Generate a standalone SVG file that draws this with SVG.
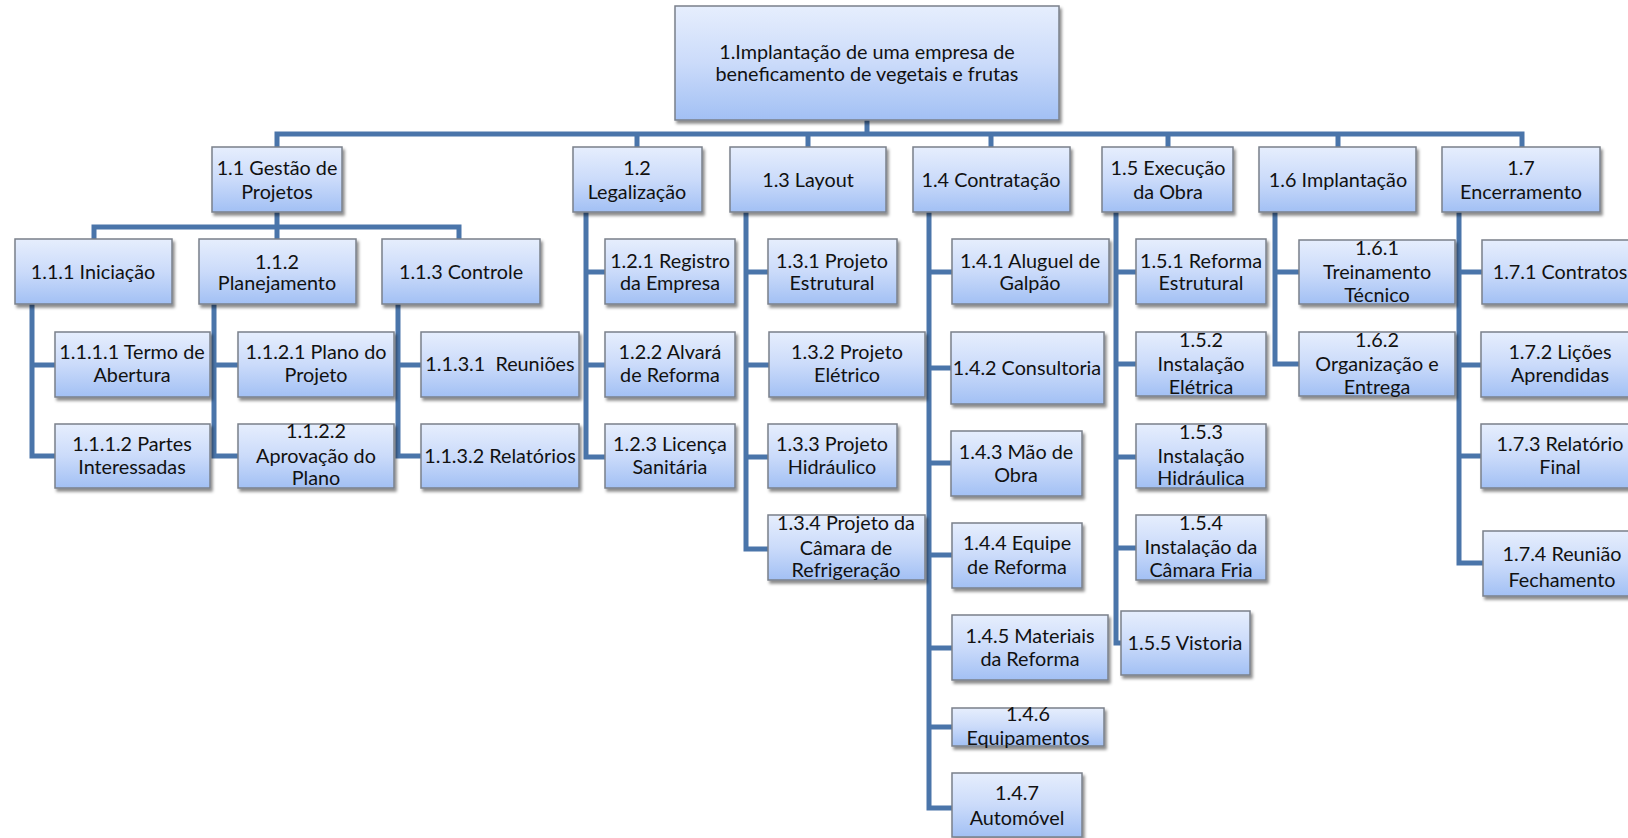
<svg xmlns="http://www.w3.org/2000/svg" width="1628" height="838" viewBox="0 0 1628 838">
<defs>
<linearGradient id="g" x1="0" y1="0" x2="0" y2="1">
<stop offset="0" stop-color="#e6eefd"/>
<stop offset="0.5" stop-color="#cbdbfa"/>
<stop offset="1" stop-color="#a2c0f4"/>
</linearGradient>
<filter id="sh" x="-10%" y="-10%" width="130%" height="140%">
<feDropShadow dx="2" dy="3" stdDeviation="1.6" flood-color="#000" flood-opacity="0.45"/>
</filter>
</defs>
<style>
.b{fill:url(#g);stroke:#7a808a;stroke-width:1.5;filter:url(#sh)}
.t{font-family:Lato,"Liberation Sans",sans-serif;font-size:19.8px;fill:#111;text-anchor:middle}
.c{fill:none;stroke:#4a75aa;stroke-width:5;stroke-linejoin:miter}
</style>
<rect width="1628" height="838" fill="#fff"/>
<g id="connectors" class="c">
<path d="M867,120V134M277,147V134H1522V147M637,134V147M808,134V147M991,134V147M1168,134V147M1338,134V147"/>
<path d="M277,212V239M94,239V227H459V239"/>
<path d="M32,304V456H55M32,365H55"/>
<path d="M214,304V456H238M214,365H238"/>
<path d="M398,304V456H421M398,365H421"/>
<path d="M586,212V457H605M586,272H605M586,365H605"/>
<path d="M746,212V549H768M746,272H768M746,365H769M746,457H768"/>
<path d="M929,212V808H952M929,272H952M929,368H951M929,463H951M929,555H952M929,648H952M929,727H952"/>
<path d="M1116,212V643H1121M1116,272H1136M1116,364H1136M1116,457H1136M1116,548H1136"/>
<path d="M1275,212V364H1299M1275,272H1299"/>
<path d="M1459,212V563H1483M1459,272H1482M1459,365H1481M1459,456H1481"/>
</g>
<g id="n1"><rect class="b" x="675" y="6" width="384" height="114"/><text class="t" x="867"><tspan x="867" y="59">1.Implantação de uma empresa de</tspan><tspan x="867" y="81">beneficamento de vegetais e frutas</tspan></text></g>
<g id="n1_1"><rect class="b" x="212" y="147" width="130" height="65"/><text class="t"><tspan x="277" y="175">1.1 Gestão de</tspan><tspan x="277" y="199">Projetos</tspan></text></g>
<g id="n1_2"><rect class="b" x="573" y="147" width="129" height="65"/><text class="t"><tspan x="637" y="175">1.2</tspan><tspan x="637" y="199">Legalização</tspan></text></g>
<g id="n1_3"><rect class="b" x="730" y="147" width="156" height="65"/><text class="t"><tspan x="808" y="187">1.3 Layout</tspan></text></g>
<g id="n1_4"><rect class="b" x="913" y="147" width="157" height="65"/><text class="t"><tspan x="991" y="187">1.4 Contratação</tspan></text></g>
<g id="n1_5"><rect class="b" x="1102" y="147" width="131" height="65"/><text class="t"><tspan x="1168" y="175">1.5 Execução</tspan><tspan x="1168" y="199">da Obra</tspan></text></g>
<g id="n1_6"><rect class="b" x="1259" y="147" width="157" height="65"/><text class="t"><tspan x="1338" y="187">1.6 Implantação</tspan></text></g>
<g id="n1_7"><rect class="b" x="1442" y="147" width="158" height="65"/><text class="t"><tspan x="1521" y="175">1.7</tspan><tspan x="1521" y="199">Encerramento</tspan></text></g>
<g id="n1_1_1"><rect class="b" x="15" y="239" width="157" height="65"/><text class="t"><tspan x="93" y="279">1.1.1 Iniciação</tspan></text></g>
<g id="n1_1_2"><rect class="b" x="199" y="239" width="157" height="65"/><text class="t"><tspan x="277" y="269">1.1.2</tspan><tspan x="277" y="290">Planejamento</tspan></text></g>
<g id="n1_1_3"><rect class="b" x="382" y="239" width="158" height="65"/><text class="t"><tspan x="461" y="279">1.1.3 Controle</tspan></text></g>
<g id="n1_1_1_1"><rect class="b" x="55" y="332" width="155" height="65"/><text class="t"><tspan x="132" y="359">1.1.1.1 Termo de</tspan><tspan x="132" y="382">Abertura</tspan></text></g>
<g id="n1_1_1_2"><rect class="b" x="55" y="424" width="155" height="64"/><text class="t"><tspan x="132" y="451">1.1.1.2 Partes</tspan><tspan x="132" y="474">Interessadas</tspan></text></g>
<g id="n1_1_2_1"><rect class="b" x="238" y="332" width="156" height="65"/><text class="t"><tspan x="316" y="359">1.1.2.1 Plano do</tspan><tspan x="316" y="382">Projeto</tspan></text></g>
<g id="n1_1_2_2"><rect class="b" x="238" y="424" width="156" height="64"/><text class="t"><tspan x="316" y="438">1.1.2.2</tspan><tspan x="316" y="463">Aprovação do</tspan><tspan x="316" y="485">Plano</tspan></text></g>
<g id="n1_1_3_1"><rect class="b" x="421" y="332" width="158" height="65"/><text class="t" xml:space="preserve"><tspan x="500" y="371">1.1.3.1  Reuniões</tspan></text></g>
<g id="n1_1_3_2"><rect class="b" x="421" y="424" width="158" height="64"/><text class="t"><tspan x="500" y="463">1.1.3.2 Relatórios</tspan></text></g>
<g id="n1_2_1"><rect class="b" x="605" y="239" width="130" height="65"/><text class="t"><tspan x="670" y="268">1.2.1 Registro</tspan><tspan x="670" y="290">da Empresa</tspan></text></g>
<g id="n1_2_2"><rect class="b" x="605" y="332" width="130" height="65"/><text class="t"><tspan x="670" y="359">1.2.2 Alvará</tspan><tspan x="670" y="382">de Reforma</tspan></text></g>
<g id="n1_2_3"><rect class="b" x="605" y="424" width="130" height="64"/><text class="t"><tspan x="670" y="451">1.2.3 Licença</tspan><tspan x="670" y="474">Sanitária</tspan></text></g>
<g id="n1_3_1"><rect class="b" x="768" y="239" width="129" height="65"/><text class="t"><tspan x="832" y="268">1.3.1 Projeto</tspan><tspan x="832" y="290">Estrutural</tspan></text></g>
<g id="n1_3_2"><rect class="b" x="769" y="332" width="156" height="65"/><text class="t"><tspan x="847" y="359">1.3.2 Projeto</tspan><tspan x="847" y="382">Elétrico</tspan></text></g>
<g id="n1_3_3"><rect class="b" x="768" y="424" width="129" height="64"/><text class="t"><tspan x="832" y="451">1.3.3 Projeto</tspan><tspan x="832" y="474">Hidráulico</tspan></text></g>
<g id="n1_3_4"><rect class="b" x="768" y="515" width="157" height="65"/><text class="t"><tspan x="846" y="530">1.3.4 Projeto da</tspan><tspan x="846" y="555">Câmara de</tspan><tspan x="846" y="577">Refrigeração</tspan></text></g>
<g id="n1_4_1"><rect class="b" x="952" y="239" width="157" height="65"/><text class="t"><tspan x="1030" y="268">1.4.1 Aluguel de</tspan><tspan x="1030" y="290">Galpão</tspan></text></g>
<g id="n1_4_2"><rect class="b" x="951" y="332" width="153" height="72"/><text class="t"><tspan x="1027" y="375">1.4.2 Consultoria</tspan></text></g>
<g id="n1_4_3"><rect class="b" x="951" y="431" width="131" height="65"/><text class="t"><tspan x="1016" y="459">1.4.3 Mão de</tspan><tspan x="1016" y="482">Obra</tspan></text></g>
<g id="n1_4_4"><rect class="b" x="952" y="523" width="130" height="65"/><text class="t"><tspan x="1017" y="550">1.4.4 Equipe</tspan><tspan x="1017" y="574">de Reforma</tspan></text></g>
<g id="n1_4_5"><rect class="b" x="952" y="615" width="156" height="65"/><text class="t"><tspan x="1030" y="643">1.4.5 Materiais</tspan><tspan x="1030" y="666">da Reforma</tspan></text></g>
<g id="n1_4_6"><rect class="b" x="952" y="708" width="152" height="38"/><text class="t"><tspan x="1028" y="721">1.4.6</tspan><tspan x="1028" y="745">Equipamentos</tspan></text></g>
<g id="n1_4_7"><rect class="b" x="952" y="773" width="130" height="64"/><text class="t"><tspan x="1017" y="800">1.4.7</tspan><tspan x="1017" y="825">Automóvel</tspan></text></g>
<g id="n1_5_1"><rect class="b" x="1136" y="239" width="130" height="65"/><text class="t"><tspan x="1201" y="268">1.5.1 Reforma</tspan><tspan x="1201" y="290">Estrutural</tspan></text></g>
<g id="n1_5_2"><rect class="b" x="1136" y="332" width="130" height="64"/><text class="t"><tspan x="1201" y="347">1.5.2</tspan><tspan x="1201" y="371">Instalação</tspan><tspan x="1201" y="394">Elétrica</tspan></text></g>
<g id="n1_5_3"><rect class="b" x="1136" y="424" width="130" height="64"/><text class="t"><tspan x="1201" y="439">1.5.3</tspan><tspan x="1201" y="463">Instalação</tspan><tspan x="1201" y="485">Hidráulica</tspan></text></g>
<g id="n1_5_4"><rect class="b" x="1136" y="515" width="130" height="65"/><text class="t"><tspan x="1201" y="530">1.5.4</tspan><tspan x="1201" y="554">Instalação da</tspan><tspan x="1201" y="577">Câmara Fria</tspan></text></g>
<g id="n1_5_5"><rect class="b" x="1121" y="611" width="129" height="64"/><text class="t"><tspan x="1185" y="650">1.5.5 Vistoria</tspan></text></g>
<g id="n1_6_1"><rect class="b" x="1299" y="240" width="156" height="64"/><text class="t"><tspan x="1377" y="255">1.6.1</tspan><tspan x="1377" y="279">Treinamento</tspan><tspan x="1377" y="302">Técnico</tspan></text></g>
<g id="n1_6_2"><rect class="b" x="1299" y="332" width="156" height="64"/><text class="t"><tspan x="1377" y="347">1.6.2</tspan><tspan x="1377" y="371">Organização e</tspan><tspan x="1377" y="394">Entrega</tspan></text></g>
<g id="n1_7_1"><rect class="b" x="1482" y="240" width="158" height="64"/><text class="t"><tspan x="1560" y="279">1.7.1 Contratos</tspan></text></g>
<g id="n1_7_2"><rect class="b" x="1481" y="332" width="159" height="65"/><text class="t"><tspan x="1560" y="359">1.7.2 Lições</tspan><tspan x="1560" y="382">Aprendidas</tspan></text></g>
<g id="n1_7_3"><rect class="b" x="1481" y="424" width="159" height="64"/><text class="t"><tspan x="1560" y="451">1.7.3 Relatório</tspan><tspan x="1560" y="474">Final</tspan></text></g>
<g id="n1_7_4"><rect class="b" x="1483" y="531" width="157" height="65"/><text class="t"><tspan x="1562" y="561">1.7.4 Reunião</tspan><tspan x="1562" y="587">Fechamento</tspan></text></g>
</svg>
